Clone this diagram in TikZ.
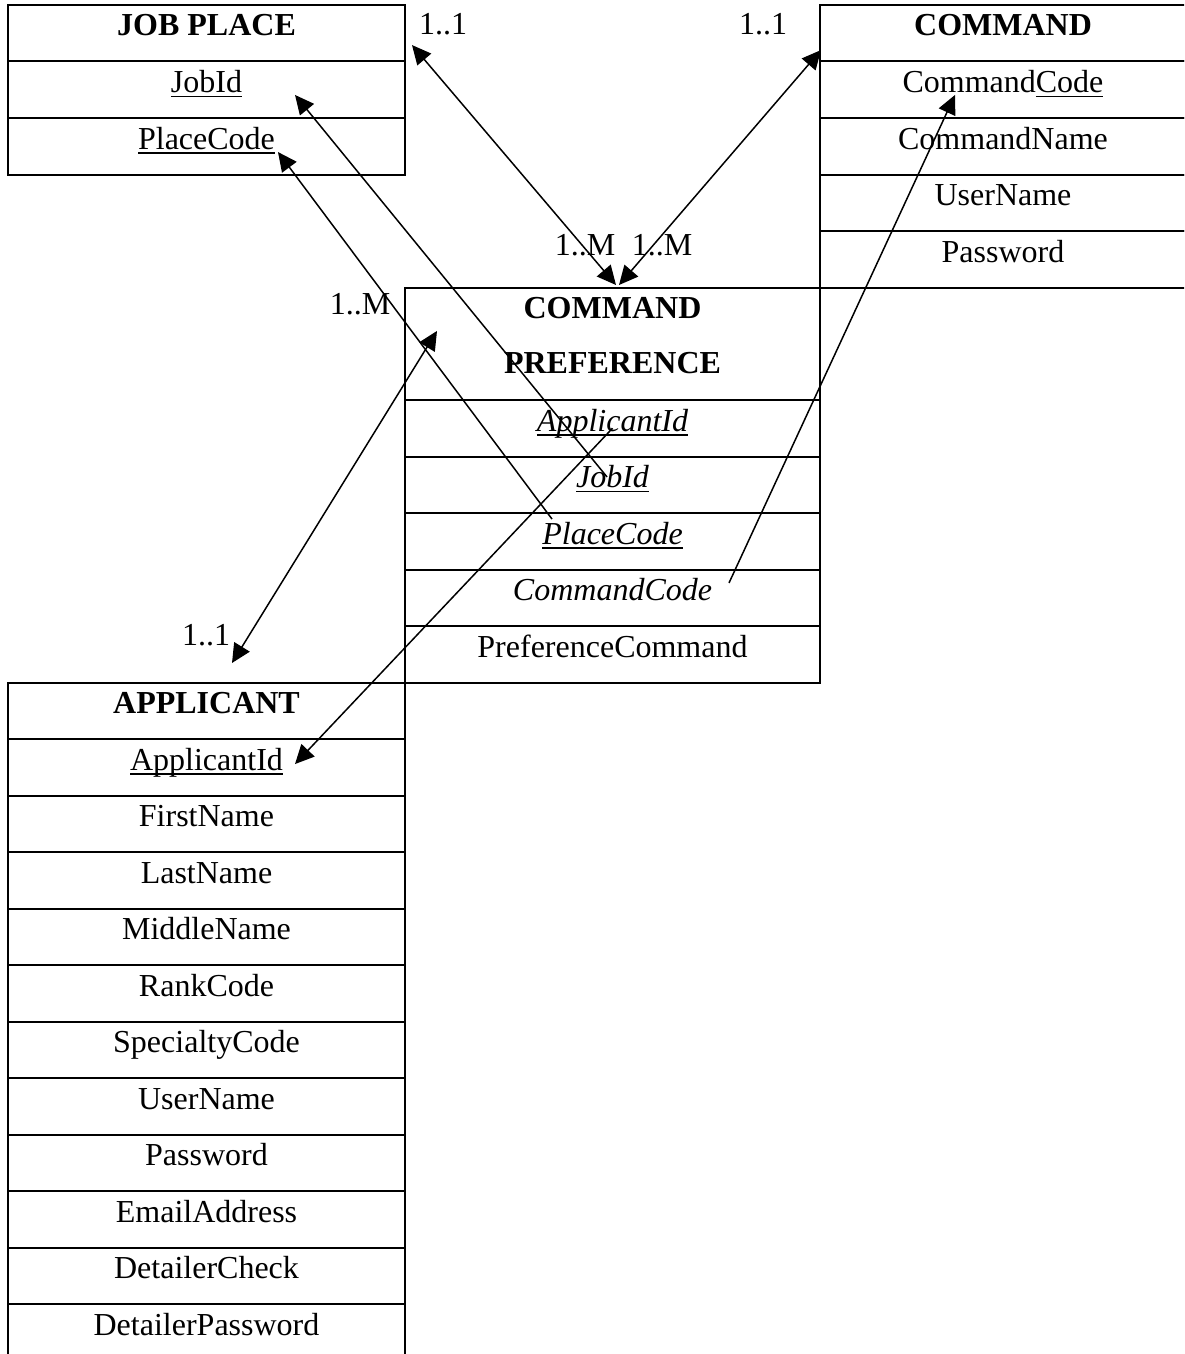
\documentclass[tikz,border=0pt]{standalone}
\usepackage{fontspec}
\setmainfont{Liberation Serif}
\usetikzlibrary{arrows.meta,positioning}

% key attribute: rule at a fixed depth under the whole word
\newsavebox{\keybox}
\newcommand{\keyline}[1]{\sbox{\keybox}{#1}\leavevmode\rlap{\rule[-2.3pt]{\wd\keybox}{0.7pt}}\usebox{\keybox}}

\tikzset{
  cell/.style={draw, line width=1pt, inner sep=0pt, outer sep=0pt,
    minimum height=28.25pt, text height=15.5pt, text depth=12.75pt,
    font=\fontsize{16pt}{19pt}\selectfont},
  leftcol/.style={cell, minimum width=198.5pt},
  midcol/.style={cell, minimum width=207.5pt},
  rightcol/.style={cell, minimum width=183pt},
  card/.style={anchor=base, inner sep=0pt, font=\fontsize{16pt}{19pt}\selectfont},
  link/.style={line width=0.75pt},
  onehead/.style={link, -{Triangle[length=9.5pt,width=9pt]}},
  twohead/.style={link, {Triangle[length=9.5pt,width=9pt]}-{Triangle[length=9.5pt,width=9pt]}}
}

\begin{document}
\begin{tikzpicture}[x=0.5pt,y=-0.5pt]
\useasboundingbox (0,0) rectangle (1184,1354);
\fill[white] (0,0) rectangle (1184,1354);
\clip (0,0) rectangle (1184,1354);

% JOB PLACE
\node[leftcol, anchor=north west] (jp0) at (8,5) {\textbf{JOB PLACE}};
\node[leftcol, below=0pt of jp0] (jp1) {\keyline{JobId}};
\node[leftcol, below=0pt of jp1] (jp2) {\keyline{PlaceCode}};

% COMMAND
\node[rightcol, anchor=north west] (cmd0) at (820,5) {\textbf{COMMAND}};
\node[rightcol, below=0pt of cmd0] (cmd1) {Command\keyline{Code}};
\node[rightcol, below=0pt of cmd1] (cmd2) {CommandName};
\node[rightcol, below=0pt of cmd2] (cmd3) {UserName};
\node[rightcol, below=0pt of cmd3] (cmd4) {Password};

% COMMAND PREFERENCE
\node[midcol, anchor=north west, minimum height=56.25pt, text height=15.25pt, text depth=41pt]
  (cp0) at (405,287.5) {\textbf{COMMAND}};
\node[card] (cp0b) at ([yshift=-27.5pt]cp0.base) {\textbf{PREFERENCE}};
\node[midcol, below=0pt of cp0] (cp1) {\keyline{\itshape ApplicantId}};
\node[midcol, below=0pt of cp1] (cp2) {\keyline{\itshape JobId}};
\node[midcol, below=0pt of cp2] (cp3) {\keyline{\itshape PlaceCode}};
\node[midcol, below=0pt of cp3] (cp4) {\textit{CommandCode}};
\node[midcol, below=0pt of cp4] (cp5) {PreferenceCommand};

% APPLICANT
\node[leftcol, anchor=north west] (app0) at (8,682.5) {\textbf{APPLICANT}};
\node[leftcol, below=0pt of app0] (app1) {\keyline{ApplicantId}};
\node[leftcol, below=0pt of app1] (app2) {FirstName};
\node[leftcol, below=0pt of app2] (app3) {LastName};
\node[leftcol, below=0pt of app3] (app4) {MiddleName};
\node[leftcol, below=0pt of app4] (app5) {RankCode};
\node[leftcol, below=0pt of app5] (app6) {SpecialtyCode};
\node[leftcol, below=0pt of app6] (app7) {UserName};
\node[leftcol, below=0pt of app7] (app8) {Password};
\node[leftcol, below=0pt of app8] (app9) {EmailAddress};
\node[leftcol, below=0pt of app9] (app10) {DetailerCheck};
\node[leftcol, below=0pt of app10] (app11) {DetailerPassword};

% relationships
\draw[twohead] ([xshift=3.5pt,yshift=-5.9pt]jp0.east) -- ([xshift=1.75pt,yshift=1.25pt]cp0.north);
\draw[twohead] ([xshift=0.5pt,yshift=-8.4pt]cmd0.west) -- ([xshift=3.25pt,yshift=1.25pt]cp0.north);
\draw[twohead] ([xshift=12.75pt,yshift=9.75pt]app0.north) -- ([xshift=16pt,yshift=6.4pt]cp0.west);

% foreign keys
\draw[onehead] (cp1.center) -- ([xshift=44.25pt,yshift=1.6pt]app1.center);
\draw[onehead] ([xshift=-2.75pt,yshift=3.9pt]cp2.center) -- ([xshift=44.25pt,yshift=-2.6pt]jp1.center);
\draw[onehead] ([xshift=-30.25pt,yshift=11.1pt]cp3.center) -- ([xshift=35.75pt,yshift=-2.9pt]jp2.center);
\draw[onehead] ([xshift=58.25pt,yshift=7.4pt]cp4.center) -- ([xshift=-24pt,yshift=-2.6pt]cmd1.center);

% cardinalities
\node[card] (k1) at (443,35) {1..1};
\node[card] (k2) at (763,35) {1..1};
\node[card] (k3) at (585,255) {1..M};
\node[card] (k4) at (662,255) {1..M};
\node[card] (k5) at (360,314) {1..M};
\node[card] (k6) at (206,645) {1..1};
\end{tikzpicture}
\end{document}
